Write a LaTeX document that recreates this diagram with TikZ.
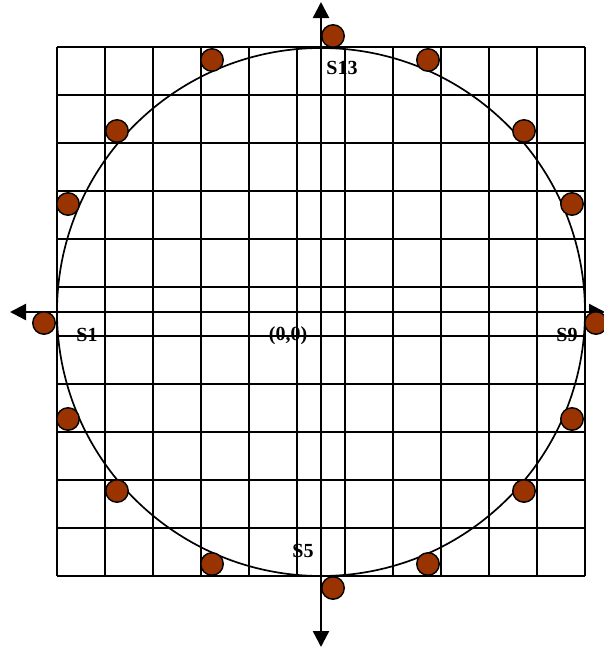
\documentclass[tikz,border=0pt]{standalone}
\usepackage{fontspec}
\setmainfont{Liberation Serif}
\definecolor{dotbrown}{RGB}{153,51,0}
\usetikzlibrary{arrows.meta}

\begin{document}
\begin{tikzpicture}[x=1pt, y=-1pt,
  gridline/.style={line width=1.6pt, black},
  axis/.style={line width=2.4pt, {Triangle[length=16pt,width=16pt]}-{Triangle[length=16pt,width=16pt]}},
  ring/.style={line width=1.7pt},
  station/.style={circle, draw=black, line width=1.4pt, fill=dotbrown, minimum size=22.5pt, inner sep=0pt},
  lbl/.style={font=\fontsize{20}{24}\selectfont\bfseries}
]
  \useasboundingbox (0,0) rectangle (603,651);

  \foreach \k in {0,...,11} {
    \draw[gridline] (57+48*\k,47) -- (57+48*\k,576);
  }
  \foreach \y in {47,95,143,191,239,287,336,384,432,480,528,576} {
    \draw[gridline] (57,\y) -- (585,\y);
  }

  \coordinate (o) at (321,312);
  \draw[ring] (o) circle[radius=264pt];

  \coordinate (xl) at (10,312);
  \coordinate (xr) at (605,312);
  \coordinate (yt) at (321,2);
  \coordinate (yb) at (321,647);
  \draw[axis] (xl) -- (xr);
  \draw[axis] (yt) -- (yb);

  \foreach \n/\x/\y in {1/44/323, 2/68/419, 3/117/491, 4/212/564,
                        5/333/588, 6/428/564, 7/524/491, 8/572/419,
                        9/596/323, 10/572/204, 11/524/131, 12/428/60,
                        13/333/36, 14/212/60, 15/117/131, 16/68/204} {
    \node[station] (s\n) at (\x,\y) {};
  }

  \node[lbl] (origin) at (288,336) {(0,0)};
  \node[lbl] (l1) at (87,335) {S1};
  \node[lbl] (l5) at (303,551) {S5};
  \node[lbl] (l9) at (567,335) {S9};
  \node[lbl] (l13) at (342,68) {S13};
\end{tikzpicture}
\end{document}
